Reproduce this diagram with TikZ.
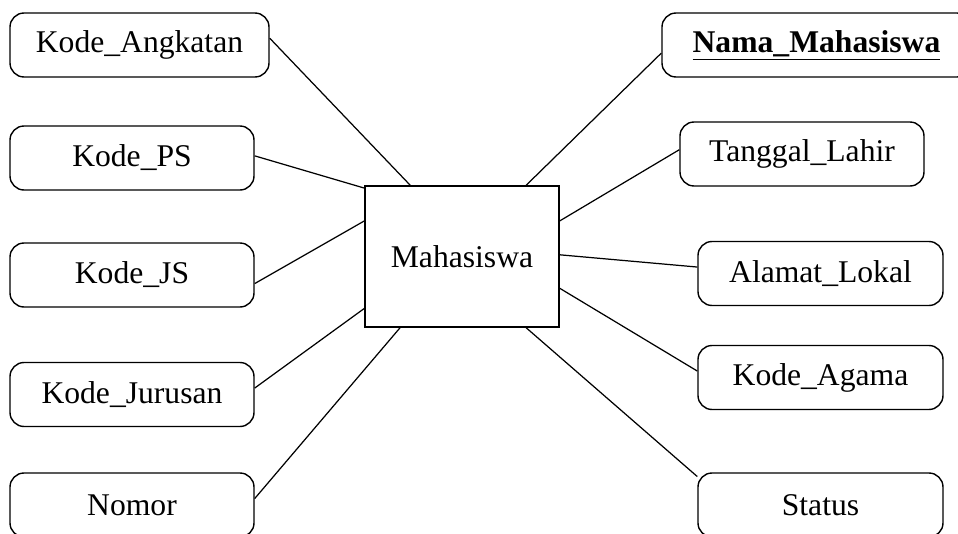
\documentclass[tikz,border=0pt]{standalone}
\usepackage{fontspec}
\setmainfont{Liberation Serif}
\usetikzlibrary{positioning,calc}

\begin{document}
\begin{tikzpicture}[
  x=0.02cm,y=-0.02cm,
  every node/.style={font=\fontsize{18}{21}\selectfont},
  attr-box/.style={draw,line width=0.8pt,rounded corners=8pt,minimum width=244*0.02cm,minimum height=64*0.02cm,inner sep=0pt},
  entity-box/.style={draw,line width=0.8pt,minimum width=194*0.02cm,minimum height=141*0.02cm,inner sep=0pt},
  attr-link/.style={draw,line width=0.7pt},
  ]

  \useasboundingbox (0,0) rectangle (958,534);
  \clip (0,0) rectangle (958,534);

  \node [entity-box] (mhs-entity) at (462,256.5) {Mahasiswa};

  % left attributes
  \node [attr-box,minimum width=259*0.02cm] (attr-angkatan) at (139.5,45) {Kode\_Angkatan};
  \node [attr-box] (attr-ps) at (132,158) {Kode\_PS};
  \node [attr-box] (attr-js) at (132,275) {Kode\_JS};
  \node [attr-box] (attr-jurusan) at (132,394.5) {Kode\_Jurusan};
  \node [attr-box] (attr-nomor) at (132,505) {Nomor};

  % right attributes
  \node [attr-box,minimum width=309*0.02cm] (attr-nama) at (816.5,45) {\underline{\textbf{Nama\_Mahasiswa}}};
  \node [attr-box] (attr-tgl-lahir) at (802,154) {Tanggal\_Lahir};
  \node [attr-box,minimum width=245*0.02cm] (attr-alamat) at (820.5,273.5) {Alamat\_Lokal};
  \node [attr-box,minimum width=245*0.02cm] (attr-agama) at (820.5,377.5) {Kode\_Agama};
  \node [attr-box,minimum width=245*0.02cm] (attr-status) at (820.5,505) {Status};

  \draw [attr-link] (attr-angkatan.3.5) -- (mhs-entity.126);
  \draw [attr-link] (attr-ps.1.9) -- (mhs-entity.145);
  \draw [attr-link] (attr-js.356) -- (mhs-entity.160);
  \draw [attr-link] (attr-jurusan.3) -- (mhs-entity.208);
  \draw [attr-link] (attr-nomor.3.75) -- (mhs-entity.229);

  \draw [attr-link] (attr-nama.183) -- (mhs-entity.48);
  \draw [attr-link] (attr-tgl-lahir.178) -- (mhs-entity.20);
  \draw [attr-link] (attr-alamat.177.4) -- (mhs-entity.1.5);
  \draw [attr-link] (attr-agama.177.9) -- (mhs-entity.342.5);
  \draw [attr-link] (attr-status.167.4) -- (mhs-entity.312);

\end{tikzpicture}
\end{document}
